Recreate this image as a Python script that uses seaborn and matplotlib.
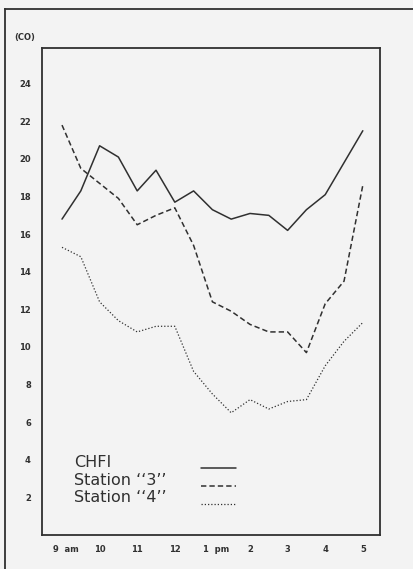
import matplotlib
matplotlib.use("Agg")
import matplotlib.pyplot as plt
import matplotlib.transforms as mtransforms
from matplotlib.lines import Line2D
import numpy as np
import pandas as pd
import seaborn as sns

# half-hourly readings, 9 am to 5 pm (hours as 9.0 .. 17.0)
hours = [9, 9.5, 10, 10.5, 11, 11.5, 12, 12.5, 13, 13.5, 14, 14.5, 15, 15.5, 16, 16.5, 17]
chfi = [16.8, 18.3, 20.7, 20.1, 18.3, 19.4, 17.7, 18.3, 17.3, 16.8, 17.1, 17.0, 16.2, 17.3, 18.1, 19.8, 21.5]
station3 = [21.8, 19.5, 18.7, 17.9, 16.5, 17.0, 17.4, 15.4, 12.4, 11.9, 11.2, 10.8, 10.8, 9.7, 12.3, 13.5, 18.6]
station4 = [15.3, 14.8, 12.4, 11.4, 10.8, 11.1, 11.1, 8.7, 7.5, 6.5, 7.2, 6.7, 7.1, 7.2, 9.0, 10.3, 11.3]

tick_hours = [9, 10, 11, 12, 13, 14, 15, 16, 17]
tick_labels = ["9  am", "10", "11", "12", "1  pm", "2", "3", "4", "5"]
y_ticks = [2, 4, 6, 8, 10, 12, 14, 16, 18, 20, 22, 24]
legend_labels = ["CHFI", "Station \u2018\u20183\u2019\u2019", "Station \u2018\u20184\u2019\u2019"]

df = pd.DataFrame({"hour": hours, "CHFI": chfi, "S3": station3, "S4": station4})

sns.set_style("white")
plt.rcParams["font.family"] = ["DejaVu Sans"]
ink = "#303030"
bg = "#f3f3f3"

fig = plt.figure(figsize=(4.13, 5.69), dpi=100)
fig.patch.set_facecolor(bg)

# outer frame (left and top edges only, as in the scan)
frame = fig.add_axes([5 / 413, -0.02, 1.05, 1.02 - 9 / 569])
frame.patch.set_visible(False)
frame.spines["right"].set_visible(False)
frame.spines["bottom"].set_visible(False)
for side in ["left", "top"]:
    frame.spines[side].set_color(ink)
    frame.spines[side].set_linewidth(1.3)
frame.set_xticks([])
frame.set_yticks([])

ax = fig.add_axes([42 / 413, 34 / 569, 338 / 413, 487 / 569])
ax.set_facecolor(bg)

sns.lineplot(data=df, x="hour", y="CHFI", ax=ax, color=ink, lw=1.1)
sns.lineplot(data=df, x="hour", y="S3", ax=ax, color=ink, lw=1.1)
ax.lines[-1].set_dashes((3.5, 2))
sns.lineplot(data=df, x="hour", y="S4", ax=ax, color=ink, lw=0.9)
ax.lines[-1].set_linestyle((0, (1, 1.6)))

ax.set_xlim(8.468, 17.457)
ax.set_ylim(0, 25.9)
for side in ax.spines:
    ax.spines[side].set_color(ink)
    ax.spines[side].set_linewidth(1.3)

ax.set_xticks(tick_hours)
ax.set_xticklabels(tick_labels, fontweight="bold")
ax.set_yticks(y_ticks)
ax.set_yticklabels([str(v) for v in y_ticks], fontweight="bold")
ax.tick_params(axis="both", length=0, labelsize=6, colors=ink)
ax.tick_params(axis="x", pad=7)
ax.tick_params(axis="y", pad=8)
shift = mtransforms.ScaledTranslation(4 / 100, 0, fig.dpi_scale_trans)
for lab in ax.get_xticklabels():
    if "m" in lab.get_text():
        lab.set_transform(lab.get_transform() + shift)

ax.set_xlabel("")
ax.set_ylabel("(CO)", rotation=0, fontsize=6, fontweight="bold", color=ink)
ax.yaxis.set_label_coords(-0.05, 1.012)

# legend: labels on the left, line samples on the right
styles = [dict(ls="-", lw=1.1), dict(ls=(0, (3.5, 2)), lw=1.1), dict(ls=(0, (1, 1.6)), lw=0.9)]
handles = [Line2D([], [], color=ink, **s) for s in styles]
blank = [Line2D([], [], color="none") for s in styles]
leg1 = ax.legend(blank, legend_labels, loc="upper left", bbox_to_anchor=(0.072, 0.18),
                 frameon=False, fontsize=11.5, handlelength=0, handletextpad=0,
                 labelspacing=0.15, borderpad=0, labelcolor=ink)
ax.add_artist(leg1)
ax.legend(handles, [" ", " ", " "], loc="upper left", bbox_to_anchor=(0.447, 0.168),
          frameon=False, fontsize=11.5, handlelength=2.2, handletextpad=0,
          labelspacing=0.2, borderpad=0)

fig.savefig("out.png", dpi=100, facecolor=bg)
